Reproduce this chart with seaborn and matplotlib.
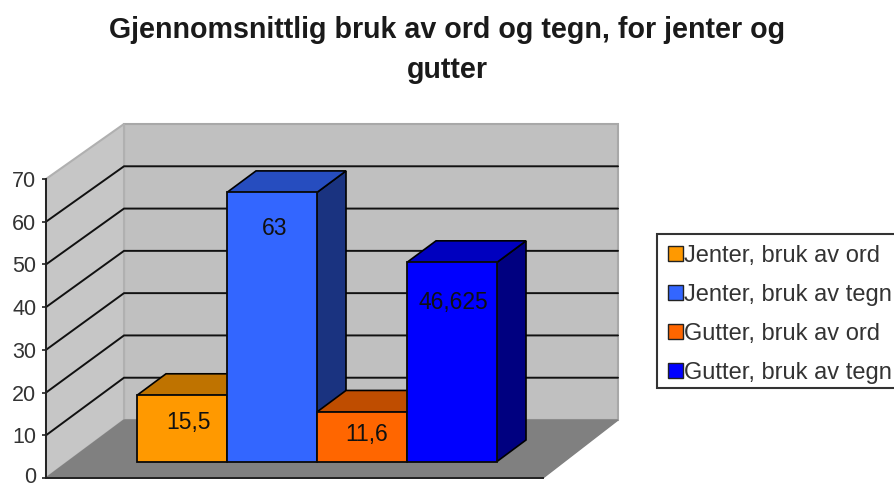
import matplotlib
matplotlib.use("Agg")
import matplotlib.pyplot as plt
from matplotlib.patches import Polygon, Patch, Rectangle
from matplotlib.colors import to_rgb
from matplotlib.transforms import ScaledTranslation
import pandas as pd
import seaborn as sns

series = ["Jenter, bruk av ord", "Jenter, bruk av tegn", "Gutter, bruk av ord", "Gutter, bruk av tegn"]
values = [15.5, 63, 11.6, 46.625]
value_labels = ["15,5", "63", "11,6", "46,625"]
colors = ["#FF9900", "#3366FF", "#FF6600", "#0000FF"]
ticks = [0, 10, 20, 30, 40, 50, 60, 70]
title = "Gjennomsnittlig bruk av ord og tegn, for jenter og\ngutter"

W, H = 894, 486
sns.set_theme(style="white")
plt.rcParams["font.family"] = ["Liberation Sans", "DejaVu Sans"]
fig = plt.figure(figsize=(W / 100, H / 100), dpi=100, facecolor="white")

def rect(x0, x1, ytop, ybot):
    return [x0 / W, 1 - ybot / H, (x1 - x0) / W, (ybot - ytop) / H]

# scene geometry in pixels
fx0, fx1, fy0, fy70 = 46, 543, 478, 179
bx0, bx1, by0, by70 = 124, 618, 420, 124

# background: walls and floor
bg = fig.add_axes([0, 0, 1, 1], zorder=0)
bg.set_xlim(0, W); bg.set_ylim(H, 0); bg.axis("off")
wall = "#C0C0C0"
bg.add_patch(Polygon([(bx0, by70), (bx1, by70), (bx1, by0), (bx0, by0)], fc=wall, ec="#A8A8A8", lw=1.5))
bg.add_patch(Polygon([(fx0, fy70), (bx0, by70), (bx0, by0), (fx0, fy0)], fc="#C6C6C6", ec="#B0B0B0", lw=1.5))
bg.add_patch(Polygon([(fx0, fy0), (bx0, by0), (bx1, by0), (fx1, fy0)], fc="#808080", ec="#808080", lw=1))
for t in ticks[1:-1]:
    yf = fy0 + (fy70 - fy0) * t / 70
    yb = by0 + (by70 - by0) * t / 70
    bg.plot([fx0, bx0, bx1], [yf, yb, yb], color="#111111", lw=1.4, solid_joinstyle="miter")
# legend box, running past the right edge of the picture
bg.add_patch(Rectangle((657, 234), 260, 154, fc="white", ec="#333333", lw=1.5, clip_on=True))

# front axis with the value scale
axis = fig.add_axes(rect(fx0, fx1, fy70, fy0), zorder=1)
axis.patch.set_alpha(0)
axis.set_xlim(0, 1); axis.set_ylim(0, 70)
axis.set_yticks(ticks)
axis.set_xticks([])
axis.tick_params(axis="y", length=3, width=1.2, color="#222222", labelsize=15.5,
                 labelcolor="#333333", left=True, pad=4)
for s in ["top", "right"]:
    axis.spines[s].set_visible(False)
for s in ["left", "bottom"]:
    axis.spines[s].set_color("#222222"); axis.spines[s].set_linewidth(1.4)
# the lowest label is lifted a little so that it stays inside the picture
lift = ScaledTranslation(0, 2.5 / 72, fig.dpi_scale_trans)
low = axis.yaxis.get_majorticklabels()[0]
low.set_transform(low.get_transform() + lift)

# bars
ax = fig.add_axes(rect(137, 497, 461.5 - 299, 461.5), zorder=2)
ax.patch.set_alpha(0)
df = pd.DataFrame({"serie": series, "verdi": values})
sns.barplot(data=df, x="serie", y="verdi", hue="serie", palette=colors, width=1.0, saturation=1,
            legend=False, ax=ax, zorder=3)
ax.set_xlim(-0.5, 3.5); ax.set_ylim(0, 70)
ax.axis("off")

ddx = 29 / 90
ddy = 21.5 / (299 / 70)
def shade(c, f):
    return tuple(v * f for v in to_rgb(c))

for i, (bar, c) in enumerate(zip(ax.patches, colors)):
    bar.set_edgecolor("#0a0a0a"); bar.set_linewidth(1.3); bar.set_clip_on(False)
    x0, x1 = bar.get_x(), bar.get_x() + bar.get_width()
    h = bar.get_height()
    z = 1 + i * 0.1
    ax.add_patch(Polygon([(x1, 0), (x1 + ddx, ddy), (x1 + ddx, h + ddy), (x1, h)],
                         fc=shade(c, 0.5), ec="black", lw=1.2, clip_on=False, zorder=z))
    ax.add_patch(Polygon([(x0, h), (x0 + ddx, h + ddy), (x1 + ddx, h + ddy), (x1, h)],
                         fc=shade(c, 0.75), ec="black", lw=1.2, clip_on=False, zorder=z))

# value labels sit at their own pixel offsets from the bar top
label_dx = [6, 3, 5, 1]
label_dy = [-27, -36, -23, -40]
for bar, txt, dx, dy in zip(ax.patches, value_labels, label_dx, label_dy):
    ax.annotate(txt, (bar.get_x() + bar.get_width() / 2, bar.get_height()),
                xytext=(dx * 0.72, dy * 0.72), textcoords="offset points",
                ha="center", va="center", fontsize=16.5, color="#111111", zorder=6)

fig.suptitle(title, x=447 / W, y=1 - 16 / H, va="top", fontsize=20.6, fontweight="bold",
             color="#1a1a1a", linespacing=1.55)

handles = [Patch(facecolor=c, edgecolor="#222222", lw=1) for c in colors]
leg = fig.legend(handles, series, loc="upper left", bbox_to_anchor=(657 / W, 1 - 234 / H),
                 borderaxespad=0, frameon=False, fontsize=17, handlelength=0.62, handleheight=0.62,
                 handletextpad=0.06, labelspacing=0.72, borderpad=0.47)
for t in leg.get_texts():
    t.set_color("#333333")

fig.savefig("out.png", dpi=100, facecolor="white")
